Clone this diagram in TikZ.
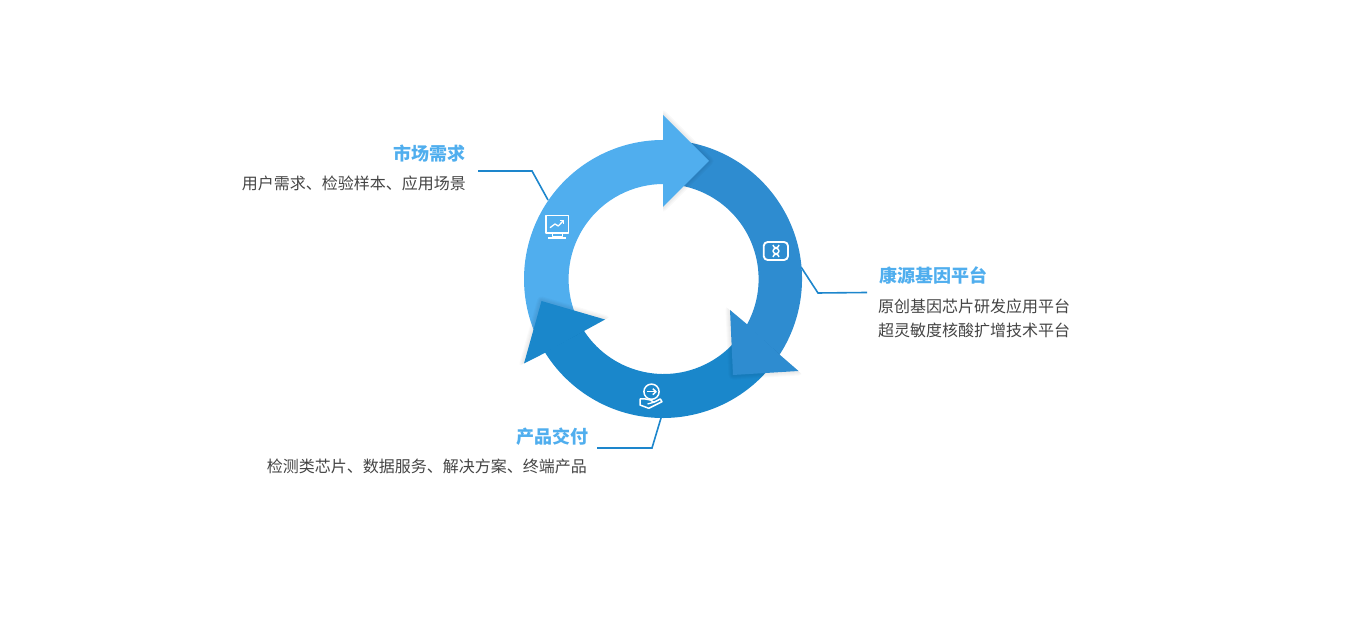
\documentclass[tikz,border=0pt]{standalone}
\usepackage{fontspec}
\setmainfont{Noto Sans CJK SC}
\definecolor{ringlight}{HTML}{50AEEE}
\definecolor{ringmid}{HTML}{2E8CD0}
\definecolor{ringdeep}{HTML}{1A87CB}
\definecolor{leadblue}{HTML}{1D86CC}
\definecolor{bodygray}{HTML}{444444}
\tikzset{
	titletext/.style={text=ringlight,font=\fontsize{18}{24}\selectfont\bfseries,inner sep=0pt},
	bodytext/.style={text=bodygray,font=\fontsize{16}{24}\selectfont,inner sep=0pt},
	leader/.style={draw=leadblue,line width=1.6pt},
	iconline/.style={draw=white,line width=1.6pt,line join=round}
}
\newcommand{\ringpart}[3]{
	\fill[#1] ([shift={(#2:139)}]hub) arc (#2:#3:139) -- ([shift={(#3:95)}]hubin) arc (#3:#2:95) -- cycle;
}
\newcommand{\ringhead}[3]{
	\begin{scope}
		\clip #3;
		\foreach \w in {9,7,5,3}
			\draw[black,opacity=.018,line width=\w,line join=round] #2;
	\end{scope}
	\fill[#1] #2;
}
\begin{document}
\begin{tikzpicture}[x=1pt,y=1pt]
	\useasboundingbox (0,0) rectangle (1366,623);
	\coordinate (hub) at (663,344);
	\coordinate (hubin) at (663.6,344);

	\node[titletext,anchor=east] (marketT) at (466,469) {市场需求};
	\node[bodytext,anchor=east] (marketB) at (466,440) {用户需求、检验样本、应用场景};
	\node[titletext,anchor=west] (platformT) at (879,348) {康源基因平台};
	\node[bodytext,anchor=west,align=left] (platformB) at (878,305) {原创基因芯片研发应用平台\\超灵敏度核酸扩增技术平台};
	\node[titletext,anchor=east] (productT) at (589,186) {产品交付};
	\node[bodytext,anchor=east] (productB) at (587,157) {检测类芯片、数据服务、解决方案、终端产品};

	\coordinate (marketA) at (478,452);
	\coordinate (marketC) at (532,452);
	\coordinate (marketD) at (548,423);
	\coordinate (platformA) at (867,330.5);
	\coordinate (platformC) at (818,330);
	\coordinate (platformD) at (801,356);
	\coordinate (productA) at (597,175);
	\coordinate (productC) at (652,175);
	\coordinate (productD) at (661,205);
	\draw[leader] (marketA) -- (marketC) -- (marketD);
	\draw[leader] (platformA) -- (platformC) -- (platformD);
	\draw[leader] (productA) -- (productC) -- (productD);

	\ringpart{ringmid}{80}{-36}
	\ringpart{ringdeep}{-35}{-155}
	\ringpart{ringlight}{90}{205}

	\ringhead{ringlight}{(663,508) -- (709,462) -- (663,416) -- cycle}{(663,400) rectangle (740,530)}
	\ringhead{ringmid}{(746.7,299) -- (730,313) -- (733,248) -- (798.5,252) -- (780,268) -- cycle}{(715,326) -- (813,239) -- (800,215) -- (700,215) -- cycle}
	\ringhead{ringdeep}{(584,292) -- (605,303.5) -- (541.5,322) -- (524,259.5) -- (544.7,270) -- cycle}{(623,313) -- (506,250) -- (495,340) -- (600,345) -- cycle}

	% monitor
	\draw[iconline] (545.7,389.7) rectangle (568.3,407.3);
	\draw[iconline] (552.3,389.7) -- (552.3,386.3) -- (562.3,386.3) -- (562.3,389.7);
	\draw[iconline] (548.3,385) -- (565.7,385);
	\draw[iconline,line width=1.3pt] (550,395.3) -- (555,399) -- (558.3,397) -- (563.5,402.5);
	\draw[iconline,line width=1.3pt] (560,402.5) -- (563.5,402.5) -- (563.5,399);
	% dna
	\draw[iconline,line width=1.9pt,rounded corners=4pt] (763.7,363) rectangle (788,381);
	\draw[iconline,line width=1.5pt] (773,378) to[out=-90,in=90] (779,372) to[out=-90,in=90] (773,366);
	\draw[iconline,line width=1.5pt] (779,378) to[out=-90,in=90] (773,372) to[out=-90,in=90] (779,366);
	% hand
	\draw[iconline,line width=1.5pt] (651.5,231.3) circle (7.6);
	\draw[iconline,line width=1.5pt] (647,231.3) -- (656,231.3);
	\draw[iconline,line width=1.5pt] (652.8,234.3) -- (656,231.3) -- (652.8,228.3);
	\draw[iconline,line width=1.5pt] (640,224) -- (640,218) -- (648.8,214.7) -- (662,221.3) -- (660.3,224) -- (653.8,220.7) -- (650.5,223) -- (645.5,224) -- cycle;
	\draw[iconline,line width=1.3pt] (653.8,220.7) -- (647.5,219);
\end{tikzpicture}
\end{document}
